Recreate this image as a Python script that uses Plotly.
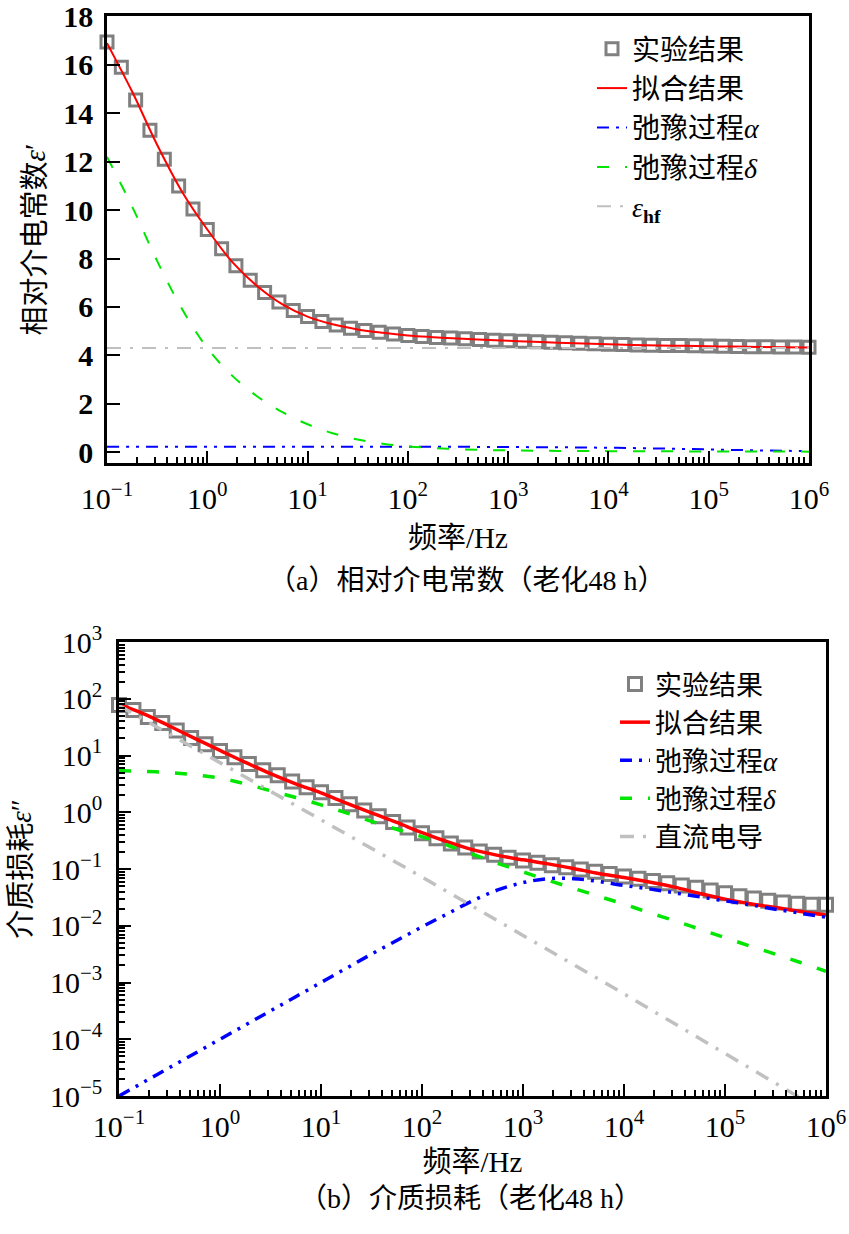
import plotly.graph_objects as go

# ---------------- data ----------------
freq_exp = [0.1, 0.139, 0.193, 0.268, 0.373, 0.518, 0.72, 1, 1.39, 1.93, 2.68, 3.73, 5.18, 7.2,
            10, 13.9, 19.3, 26.8, 37.3, 51.8, 72, 100, 139, 193, 268, 373, 518, 720,
            1e3, 1390, 1930, 2680, 3730, 5180, 7200, 1e4, 13900, 19300, 26800, 37300, 51800, 72000,
            1e5, 139000, 193000, 268000, 373000, 518000, 720000, 1e6]

freq_fit = [0.1, 0.178, 0.316, 0.562, 1, 1.78, 3.16, 5.62, 10, 17.8, 31.6, 56.2, 100, 178, 316, 562,
            1e3, 1780, 3160, 5620, 1e4, 17800, 31600, 56200, 1e5, 178000, 316000, 562000, 1e6]

freq_dc = [0.1, 1, 10, 100, 1e3, 1e4, 1e5, 1e6]

# (a) real permittivity
eps_r_exp = [16.95, 15.9, 14.55, 13.3, 12.1, 11.0, 10.05, 9.2, 8.4, 7.7, 7.1, 6.6, 6.2, 5.85,
             5.6, 5.4, 5.25, 5.12, 5.02, 4.95, 4.88, 4.82, 4.78, 4.74, 4.71, 4.68, 4.65, 4.62,
             4.6, 4.58, 4.56, 4.54, 4.52, 4.5, 4.48, 4.46, 4.45, 4.43, 4.42, 4.41, 4.4, 4.39,
             4.38, 4.37, 4.36, 4.35, 4.35, 4.34, 4.34, 4.33]
eps_r_fit = [16.9, 14.9, 12.7, 10.75, 9.2, 7.85, 6.85, 6.1, 5.6, 5.28, 5.07, 4.93, 4.82, 4.75, 4.69,
             4.64, 4.6, 4.56, 4.52, 4.49, 4.46, 4.43, 4.41, 4.39, 4.37, 4.36, 4.34, 4.33, 4.32]
eps_r_alpha = [0.22, 0.22, 0.22, 0.22, 0.22, 0.22, 0.22, 0.22, 0.22, 0.22, 0.22, 0.22, 0.22, 0.22,
               0.22, 0.215, 0.21, 0.205, 0.2, 0.19, 0.18, 0.165, 0.15, 0.13, 0.11, 0.09, 0.07, 0.055, 0.04]
eps_r_delta = [12.2, 10.15, 7.9, 5.9, 4.3, 3.15, 2.3, 1.65, 1.15, 0.78, 0.52, 0.35, 0.24, 0.17, 0.12,
               0.09, 0.07, 0.06, 0.05, 0.045, 0.04, 0.036, 0.033, 0.03, 0.027, 0.025, 0.023, 0.021, 0.02]
freq_hf = [0.1, 1e6]
eps_hf = [4.3, 4.3]

# (b) dielectric loss
eps_i_exp = [77.6, 63.1, 47.9, 37.2, 27.5, 20.4, 15.8, 12.0, 9.33, 7.08, 5.50, 4.47, 3.47, 2.75,
             2.24, 1.78, 1.38, 1.07, 0.851, 0.676, 0.537, 0.427, 0.347, 0.282, 0.240, 0.204, 0.178,
             0.158, 0.141, 0.129, 0.117, 0.107, 0.0977, 0.0891, 0.0813, 0.0741, 0.0676, 0.0617,
             0.0562, 0.0513, 0.0468, 0.0417, 0.0372, 0.0331, 0.0302, 0.0275, 0.0257, 0.0245,
             0.0234, 0.0234]
eps_i_fit = [79.4, 53.7, 33.1, 20.0, 12.3, 7.59, 4.79, 3.16, 2.19, 1.45, 0.977, 0.661, 0.437, 0.302,
             0.219, 0.174, 0.145, 0.123, 0.102, 0.0832, 0.0708, 0.0589, 0.0479, 0.0372, 0.0295,
             0.0245, 0.0209, 0.0178, 0.0155]
eps_i_alpha = [1e-5, 1.78e-5, 3.16e-5, 5.62e-5, 1e-4, 1.78e-4, 3.16e-4, 5.62e-4, 1e-3, 1.78e-3,
               3.16e-3, 5.5e-3, 9.55e-3, 0.0162, 0.0275, 0.0427, 0.0575, 0.0676, 0.0676, 0.0603,
               0.0513, 0.0447, 0.038, 0.0324, 0.0275, 0.0234, 0.0195, 0.0166, 0.0141]
eps_i_delta = [5.37, 5.25, 5.01, 4.57, 3.98, 3.16, 2.40, 1.82, 1.35, 0.977, 0.692, 0.501, 0.372,
               0.263, 0.182, 0.126, 0.0891, 0.0631, 0.0457, 0.0331, 0.024, 0.017, 0.0123, 0.0087,
               0.00617, 0.00437, 0.00316, 0.00224, 0.00158]
eps_i_dc = [75.9, 7.41, 0.741, 0.0724, 6.76e-3, 6.31e-4, 5.62e-5, 5.01e-6]

x_tickvals = [-1, 0, 1, 2, 3, 4, 5, 6]
x_ticktext = ["10<sup>−1</sup>", "10<sup>0</sup>", "10<sup>1</sup>", "10<sup>2</sup>",
              "10<sup>3</sup>", "10<sup>4</sup>", "10<sup>5</sup>", "10<sup>6</sup>"]
y2_tickvals = [1e-5, 1e-4, 1e-3, 1e-2, 1e-1, 1, 10, 100, 1000]
y2_ticktext = ["10<sup>−5</sup>", "10<sup>−4</sup>", "10<sup>−3</sup>", "10<sup>−2</sup>",
               "10<sup>−1</sup>", "10<sup>0</sup>", "10<sup>1</sup>", "10<sup>2</sup>", "10<sup>3</sup>"]

names_a = ["实验结果", "拟合结果", "弛豫过程<i>α</i>", "弛豫过程<i>δ</i>", "<i>ε</i><sub><b>hf</b></sub>"]
names_b = ["实验结果", "拟合结果", "弛豫过程<i>α</i>", "弛豫过程<i>δ</i>", "直流电导"]

# ---------------- styling ----------------
FONT = "Liberation Serif, Noto Sans CJK SC, serif"
GREY = "#808080"
RED = "#ff0000"
BLUE = "#0000ff"
GREEN = "#00e600"
LGREY = "#c0c0c0"
DASH_ALPHA = "12px,7px,3px,7px,3px,7px"
DASH_DELTA = "12px,16px"
DASH_DC = "14px,9px,3px,9px"

fig = go.Figure()

# (a)
fig.add_trace(go.Scatter(x=freq_exp, y=eps_r_exp, mode="markers", name=names_a[0],
                         marker=dict(symbol="square-open", size=12, color=GREY, line=dict(width=3, color=GREY)),
                         cliponaxis=False, xaxis="x", yaxis="y", legend="legend"))
fig.add_trace(go.Scatter(x=freq_fit, y=eps_r_fit, mode="lines", name=names_a[1], line_shape="spline",
                         line=dict(color=RED, width=2), xaxis="x", yaxis="y", legend="legend"))
fig.add_trace(go.Scatter(x=freq_fit, y=eps_r_alpha, mode="lines", name=names_a[2], line_shape="spline",
                         line=dict(color=BLUE, width=2, dash=DASH_ALPHA), xaxis="x", yaxis="y", legend="legend"))
fig.add_trace(go.Scatter(x=freq_fit, y=eps_r_delta, mode="lines", name=names_a[3], line_shape="spline",
                         line=dict(color=GREEN, width=2, dash=DASH_DELTA), xaxis="x", yaxis="y", legend="legend"))
fig.add_trace(go.Scatter(x=freq_hf, y=eps_hf, mode="lines", name=names_a[4],
                         line=dict(color=LGREY, width=2, dash=DASH_DC), xaxis="x", yaxis="y", legend="legend"))

# (b)
fig.add_trace(go.Scatter(x=freq_exp, y=eps_i_exp, mode="markers", name=names_b[0],
                         marker=dict(symbol="square-open", size=13, color=GREY, line=dict(width=3, color=GREY)),
                         cliponaxis=False, xaxis="x2", yaxis="y2", legend="legend2"))
fig.add_trace(go.Scatter(x=freq_fit, y=eps_i_fit, mode="lines", name=names_b[1], line_shape="spline",
                         line=dict(color=RED, width=3.5), xaxis="x2", yaxis="y2", legend="legend2"))
fig.add_trace(go.Scatter(x=freq_fit, y=eps_i_alpha, mode="lines", name=names_b[2], line_shape="spline",
                         line=dict(color=BLUE, width=3.5, dash=DASH_ALPHA), xaxis="x2", yaxis="y2", legend="legend2"))
fig.add_trace(go.Scatter(x=freq_fit, y=eps_i_delta, mode="lines", name=names_b[3], line_shape="spline",
                         line=dict(color=GREEN, width=3.5, dash=DASH_DELTA), xaxis="x2", yaxis="y2", legend="legend2"))
fig.add_trace(go.Scatter(x=freq_dc, y=eps_i_dc, mode="lines", name=names_b[4],
                         line=dict(color=LGREY, width=3.5, dash=DASH_DC), xaxis="x2", yaxis="y2", legend="legend2"))

W, H = 849, 1234


def px(x):
    return x / W


def py(y):
    return 1 - y / H


tick_font = dict(family=FONT, size=30, color="black")
title_font = dict(family=FONT, size=29, color="black")

common_axis = dict(showline=True, linecolor="black", linewidth=2.5, mirror=True, showgrid=False,
                   zeroline=False, ticks="inside", tickcolor="black", tickwidth=2, automargin=False,
                   ticklabeloverflow="allow")

log_x = dict(common_axis, type="log", range=[-1, 6], tickmode="array",
             tickvals=[10 ** v for v in x_tickvals], ticktext=x_ticktext, ticklen=12,
             tickfont=tick_font,
             minor=dict(ticks="inside", ticklen=6, tickwidth=1.5, tickcolor="black", dtick="D1", showgrid=False))

fig.update_layout(
    width=W, height=H, margin=dict(l=0, r=0, t=0, b=0, autoexpand=False),
    paper_bgcolor="white", plot_bgcolor="white", font=dict(family=FONT, color="black"),
    xaxis=dict(log_x, domain=[px(107), px(809)], anchor="y", ticklabelstandoff=7,
               title=dict(text="频率/Hz", font=title_font, standoff=14)),
    yaxis=dict(common_axis, domain=[py(463), py(16)], anchor="x", range=[-0.45, 18.02],
               tickmode="linear", tick0=0, dtick=2, ticklen=13,
               tickfont=dict(family=FONT, size=30, color="black", weight="bold"), ticklabelstandoff=5,
               title=dict(text="相对介电常数<i>ε</i>′", font=title_font, standoff=10)),
    xaxis2=dict(log_x, domain=[px(119), px(826)], anchor="y2", ticklabelstandoff=2,
                title=dict(text="频率/Hz", font=title_font, standoff=10)),
    yaxis2=dict(common_axis, type="log", domain=[py(1096), py(642)], anchor="x2", range=[-5, 3],
                tickmode="array", tickvals=y2_tickvals, ticktext=y2_ticktext, ticklen=12,
                tickfont=tick_font, ticklabelstandoff=8,
                minor=dict(ticks="inside", ticklen=6, tickwidth=1.5, tickcolor="black", dtick="D1", showgrid=False),
                title=dict(text="介质损耗<i>ε</i>″", font=title_font, standoff=10)),
    legend=dict(x=px(592), y=py(24), xanchor="left", yanchor="top", bgcolor="rgba(0,0,0,0)",
                font=dict(family=FONT, size=28, color="black"), tracegroupgap=0),
    legend2=dict(x=px(615), y=py(660), xanchor="left", yanchor="top", bgcolor="rgba(0,0,0,0)",
                 font=dict(family=FONT, size=27, color="black"), tracegroupgap=0),
    showlegend=True,
)

fig.add_annotation(text="（a）相对介电常数（老化48 h）", x=px(466), y=py(580), xref="paper", yref="paper",
                   showarrow=False, font=dict(family=FONT, size=28, color="black"), xanchor="center", yanchor="middle")
fig.add_annotation(text="（b）介质损耗（老化48 h）", x=px(470), y=py(1198), xref="paper", yref="paper",
                   showarrow=False, font=dict(family=FONT, size=28, color="black"), xanchor="center", yanchor="middle")

# remove the browser's default page margin so the figure sits at the top-left corner
fig.write_html("out.html", config={"displayModeBar": False},
               post_script="document.body.style.margin='0';document.body.style.overflow='hidden';")
